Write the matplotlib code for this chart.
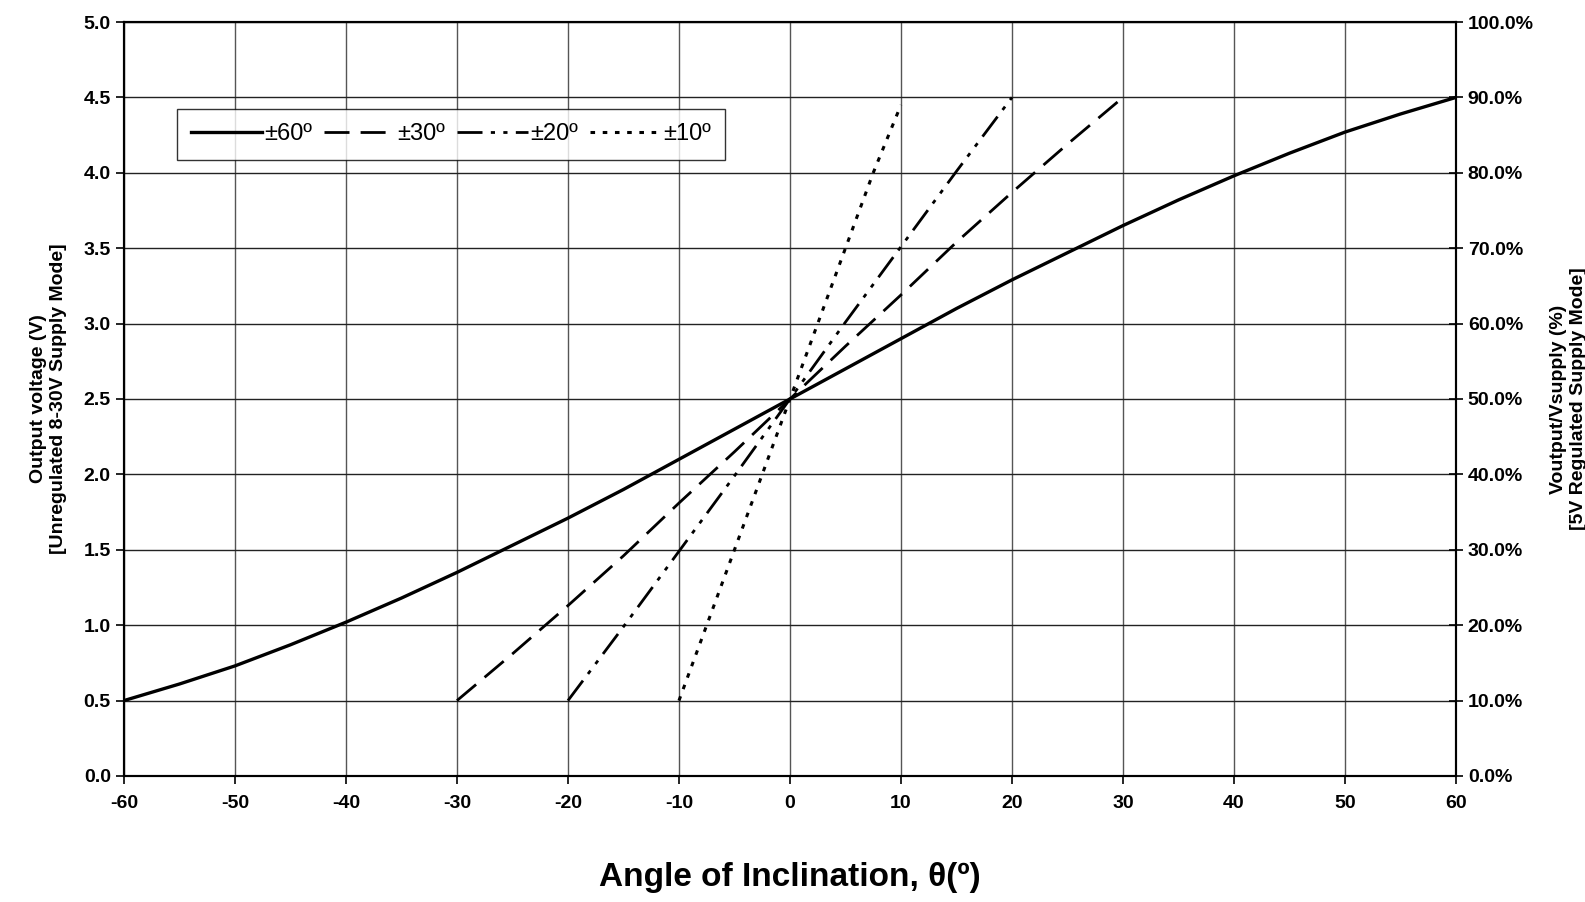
import matplotlib.pyplot as plt
from matplotlib.ticker import FormatStrFormatter

plt.rcParams['font.family'] = ['Liberation Sans', 'DejaVu Sans']
plt.rcParams['axes.unicode_minus'] = False

# values
angle_60 = [-60, -55, -50, -45, -40, -35, -30, -25, -20, -15, -10, -5, 0,
            5, 10, 15, 20, 25, 30, 35, 40, 45, 50, 55, 60]
volt_60 = [0.50, 0.61, 0.73, 0.87, 1.02, 1.18, 1.35, 1.53, 1.71, 1.90, 2.10, 2.30, 2.50,
           2.70, 2.90, 3.10, 3.29, 3.47, 3.65, 3.82, 3.98, 4.13, 4.27, 4.39, 4.50]

angle_30 = [-30, -25, -20, -15, -10, -5, 0, 5, 10, 15, 20, 25, 30]
volt_30 = [0.50, 0.81, 1.13, 1.46, 1.81, 2.15, 2.50, 2.85, 3.19, 3.54, 3.87, 4.19, 4.50]

angle_20 = [-20, -15, -10, -5, 0, 5, 10, 15, 20]
volt_20 = [0.50, 0.99, 1.49, 1.99, 2.50, 3.01, 3.51, 4.01, 4.50]

angle_10 = [-10, -7.5, -5, -2.5, 0, 2.5, 5, 7.5, 10]
volt_10 = [0.50, 1.00, 1.50, 2.00, 2.50, 3.00, 3.50, 4.00, 4.45]

fig = plt.figure(figsize=(15.85, 9.02), dpi=100)
ax = fig.add_axes([0.0782, 0.1397, 0.8404, 0.8359])

ax.plot(angle_60, volt_60, color='black', lw=2.4, ls='-', label='±60º')
ax.plot(angle_30, volt_30, color='black', lw=2.0, ls=(0, (9, 4)), label='±30º')
ax.plot(angle_20, volt_20, color='black', lw=2.0, ls=(0, (9, 3, 1.5, 3, 1.5, 3)), label='±20º')
ax.plot(angle_10, volt_10, color='black', lw=2.2, ls=(0, (1.5, 2.5)), label='±10º')

ax.set_xlim(-60, 60)
ax.set_ylim(0, 5)
ax.set_xticks(range(-60, 61, 10))
ax.set_yticks([i * 0.5 for i in range(11)])
ax.yaxis.set_major_formatter(FormatStrFormatter('%.1f'))
ax.grid(True, axis='x', color='#555555', lw=1)
ax.grid(True, axis='y', color='#222222', lw=1)
ax.set_axisbelow(True)
for s in ax.spines.values():
    s.set_linewidth(1.5)
ax.tick_params(axis='both', labelsize=14, direction='out', length=6, width=1.2)
ax.tick_params(axis='x', pad=8)
for lab in ax.get_xticklabels() + ax.get_yticklabels():
    lab.set_fontweight('bold')

ax.set_ylabel('Output voltage (V)\n[Unregulated 8-30V Supply Mode]',
              fontsize=14, fontweight='bold', labelpad=12)
ax.set_xlabel('Angle of Inclination, θ(º)', fontsize=24, fontweight='bold', labelpad=36)

ax2 = ax.twinx()
ax2.set_ylim(0, 100)
ax2.set_yticks(range(0, 101, 10))
ax2.yaxis.set_major_formatter(FormatStrFormatter('%.1f%%'))
ax2.tick_params(axis='y', labelsize=14, direction='inout', length=10, width=1.2)
for lab in ax2.get_yticklabels():
    lab.set_fontweight('bold')
ax2.set_ylabel('Voutput/Vsupply (%)\n[5V Regulated Supply Mode]',
               fontsize=14, fontweight='bold', labelpad=12, rotation=90)
for s in ax2.spines.values():
    s.set_linewidth(1.5)

leg = ax.legend(loc='upper left', bbox_to_anchor=(0.031, 0.9), ncol=4,
                fontsize=17, handlelength=3.0, handletextpad=0.1, columnspacing=0.5,
                frameon=True, fancybox=False, edgecolor='black', borderpad=0.6)
leg.get_frame().set_linewidth(1.0)

fig.savefig('out.png', dpi=100)
